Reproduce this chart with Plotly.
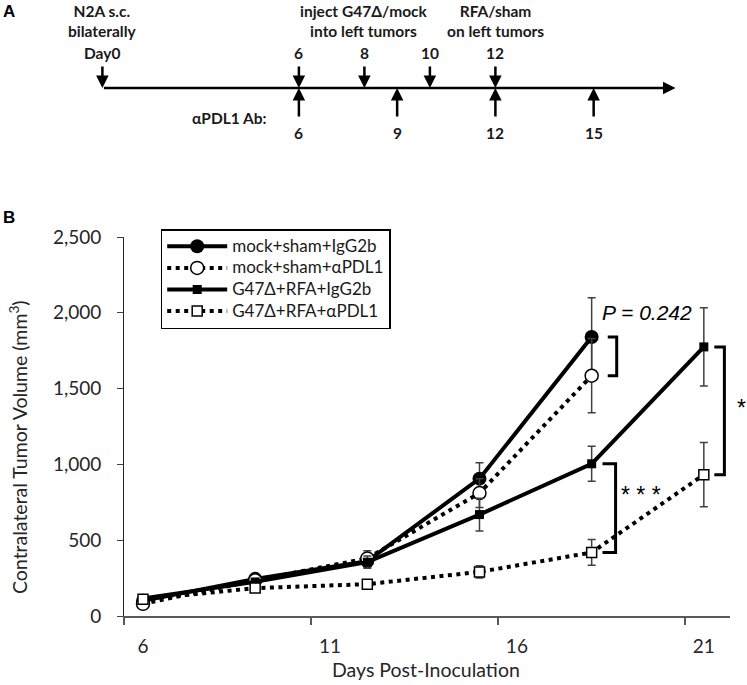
import plotly.graph_objects as go

# ---------------- Data ----------------
days = [6, 9, 12, 15, 18, 21]
mock_igg = [100, 245, 362, 906, 1840, None]
mock_igg_err = [20, 20, 40, 105, 260, 0]
mock_pdl1 = [80, 235, 380, 811, 1585, None]
mock_pdl1_err = [20, 20, 50, 95, 245, 0]
g47_igg = [115, 225, 355, 669, 1004, 1775]
g47_igg_err = [20, 20, 40, 108, 115, 258]
g47_pdl1 = [110, 184, 210, 291, 419, 932]
g47_pdl1_err = [15, 15, 20, 40, 85, 212]

series_names = ["mock+sham+IgG2b", "mock+sham+αPDL1", "G47Δ+RFA+IgG2b", "G47Δ+RFA+αPDL1"]

x_tick_labels = [6, 11, 16, 21]
y_tick_values = [0, 500, 1000, 1500, 2000, 2500]

# timeline (panel A)
top_days = [0, 6, 8, 10, 12]
top_labels = ["Day0", "6", "8", "10", "12"]
pdl1_days = [6, 9, 12, 15]
pdl1_labels = ["6", "9", "12", "15"]
event_days = [0, 8, 12]
event_texts = ["N2A s.c.<br>bilaterally", "inject G47Δ/mock<br>into left tumors", "RFA/sham<br>on left tumors"]
timeline_end = 17.5

W, H = 747, 685
FONT = "Lato"
TXT = "#1a1a1a"

fig = go.Figure()

def err(vals):
    return dict(type="data", array=vals, visible=True, color="#404040", thickness=1.5, width=4)

def lname(n):
    return '<span style="font-size:17px">%s</span>' % n

# series
fig.add_trace(go.Scatter(x=days, y=mock_igg, name=lname(series_names[0]), mode="lines+markers",
                         line=dict(color="black", width=4),
                         marker=dict(symbol="circle", size=14, color="black"),
                         error_y=err(mock_igg_err)))
fig.add_trace(go.Scatter(x=days, y=mock_pdl1, name=lname(series_names[1]), mode="lines+markers",
                         line=dict(color="black", width=4, dash="4px,4.5px"),
                         marker=dict(symbol="circle", size=13, color="white", line=dict(color="black", width=1.5)),
                         error_y=err(mock_pdl1_err)))
fig.add_trace(go.Scatter(x=days, y=g47_igg, name=lname(series_names[2]), mode="lines+markers",
                         line=dict(color="black", width=4),
                         marker=dict(symbol="square", size=9, color="black"),
                         error_y=err(g47_igg_err)))
fig.add_trace(go.Scatter(x=days, y=g47_pdl1, name=lname(series_names[3]), mode="lines+markers",
                         line=dict(color="black", width=4, dash="4px,4.5px"),
                         marker=dict(symbol="square", size=10, color="white", line=dict(color="black", width=1.5)),
                         error_y=err(g47_pdl1_err)))

# significance brackets built from data values
def bracket(day, ya, yb, inner, outer):
    fig.add_trace(go.Scatter(x=[day + inner, day + outer, day + outer, day + inner],
                             y=[ya, ya, yb, yb], mode="lines",
                             line=dict(color="black", width=3), showlegend=False, hoverinfo="skip"))

i18 = days.index(18)
i21 = days.index(21)
bracket(18, mock_igg[i18], mock_pdl1[i18], 0.43, 0.67)
bracket(18, g47_igg[i18], g47_pdl1[i18], 0.29, 0.64)
bracket(21, g47_igg[i21], g47_pdl1[i21], 0.28, 0.55)

# dummy trace to create timeline subplot
fig.add_trace(go.Scatter(x=[], y=[], xaxis="x2", yaxis="y2", showlegend=False, hoverinfo="skip"))

ann = []
SIGF = "Liberation Sans, Arial"
# significance texts
ann.append(dict(x=19.47, y=2005, xref="x", yref="y", text="<i>P = 0.242</i>", showarrow=False,
                xanchor="center", yanchor="middle",
                font=dict(family=SIGF, size=21, color="black")))
ann.append(dict(x=19.31, y=800, xref="x", yref="y", text="* * *", showarrow=False,
                xanchor="center", yanchor="middle",
                font=dict(family=SIGF, size=23, color="black")))
ann.append(dict(x=741 / W, y=(H - 408) / H, xref="paper", yref="paper", text="*", showarrow=False,
                xanchor="center", yanchor="middle",
                font=dict(family=SIGF, size=23, color="black")))

# axis titles
ann.append(dict(x=18 / W, y=(H - 447) / H, xref="paper", yref="paper",
                text="Contralateral Tumor Volume (mm<sup>3</sup>)",
                textangle=-90, showarrow=False, xanchor="center", yanchor="middle",
                font=dict(family=FONT, size=19.5, color="#262626")))
ann.append(dict(x=426 / W, y=(H - 669) / H, xref="paper", yref="paper",
                text="Days Post-Inoculation", showarrow=False, xanchor="center", yanchor="middle",
                font=dict(family=FONT, size=19.5, color="#262626")))

# panel labels
ann.append(dict(x=9 / W, y=(H - 11) / H, xref="paper", yref="paper", text="<b>A</b>", showarrow=False,
                xanchor="center", yanchor="middle",
                font=dict(family=SIGF, size=17, color="black")))
ann.append(dict(x=9 / W, y=(H - 218) / H, xref="paper", yref="paper", text="<b>B</b>", showarrow=False,
                xanchor="center", yanchor="middle",
                font=dict(family=SIGF, size=17, color="black")))

# timeline main line with arrow
ann.append(dict(x=timeline_end, y=0, ax=top_days[0], ay=0, xref="x2", yref="y2", axref="x2", ayref="y2",
                text="", showarrow=True, arrowhead=2, arrowsize=1, arrowwidth=2.5, arrowcolor="black"))
tfont = dict(family=FONT, size=15.5, color=TXT)
for d, lab in zip(top_days, top_labels):
    ann.append(dict(x=d, y=0, xref="x2", yref="y2", text="", showarrow=True, ax=0, ay=-23,
                    arrowhead=2, arrowsize=1, arrowwidth=2.5, arrowcolor="black", standoff=0))
    ann.append(dict(x=d, y=0, xref="x2", yref="y2", text="<b>%s</b>" % lab, showarrow=False, yshift=35,
                    xanchor="center", yanchor="middle", font=tfont))
for d, lab in zip(pdl1_days, pdl1_labels):
    ann.append(dict(x=d, y=0, xref="x2", yref="y2", text="", showarrow=True, ax=0, ay=30,
                    arrowhead=2, arrowsize=1, arrowwidth=2.5, arrowcolor="black", standoff=0))
    ann.append(dict(x=d, y=0, xref="x2", yref="y2", text="<b>%s</b>" % lab, showarrow=False, yshift=-45,
                    xanchor="center", yanchor="middle", font=tfont))
for d, t in zip(event_days, event_texts):
    ann.append(dict(x=d, y=0, xref="x2", yref="y2", text="<b>%s</b>" % t.replace("<br>", "</b><br><b>"),
                    showarrow=False, yshift=67, xanchor="center", yanchor="middle", font=tfont))
ann.append(dict(x=pdl1_days[0], y=0, xref="x2", yref="y2", text="<b>αPDL1 Ab:</b>", showarrow=False,
                xanchor="right", yanchor="middle", xshift=-30, yshift=-30, font=tfont))

px_per_day_A = 32.75
day0_px_A = 102.4

fig.update_layout(
    width=W, height=H,
    margin=dict(l=0, r=0, t=0, b=0, autoexpand=False),
    paper_bgcolor="white", plot_bgcolor="white",
    font=dict(family=FONT, color="#262626"),
    showlegend=True,
    legend=dict(x=160.7 / W, y=(H - 229) / H, xanchor="left", yanchor="top",
                bgcolor="white", bordercolor="black", borderwidth=1.5,
                font=dict(family=FONT, size=14.3, color=TXT), tracegroupgap=0, itemwidth=60),
    xaxis=dict(domain=[124.3 / W, 730 / W], range=[5.5, 21.7], tickmode="array", tickvals=x_tick_labels,
               ticks="", showline=True, linecolor="#595959", linewidth=2, showgrid=False, zeroline=False,
               automargin=False,
               tickfont=dict(family=FONT, size=19, color="#262626"), ticklabelstandoff=12,
               minor=dict(tickmode="linear", tick0=5.5, dtick=5, ticks="outside", ticklen=7,
                          tickcolor="#595959", tickwidth=1.5, showgrid=False)),
    yaxis=dict(domain=[(H - 616) / H, (H - 237) / H], range=[0, 2500], tickmode="array", tickvals=y_tick_values,
               tickformat=",d", ticks="outside", ticklen=6, tickcolor="#404040", tickwidth=1.3,
               showline=True, linecolor="#262626", linewidth=1.3, showgrid=False, zeroline=False,
               automargin=False,
               tickfont=dict(family=FONT, size=19, color="#262626"), ticklabelstandoff=12),
    xaxis2=dict(domain=[0, 1], range=[(0 - day0_px_A) / px_per_day_A, (W - day0_px_A) / px_per_day_A],
                visible=False, anchor="y2", automargin=False),
    yaxis2=dict(domain=[(H - 150) / H, 1], range=[-62, 88], visible=False, anchor="x2", automargin=False),
    annotations=ann,
)

fig.write_html("out.html", config={"displayModeBar": False},
               post_script="document.body.style.margin='0px';")
